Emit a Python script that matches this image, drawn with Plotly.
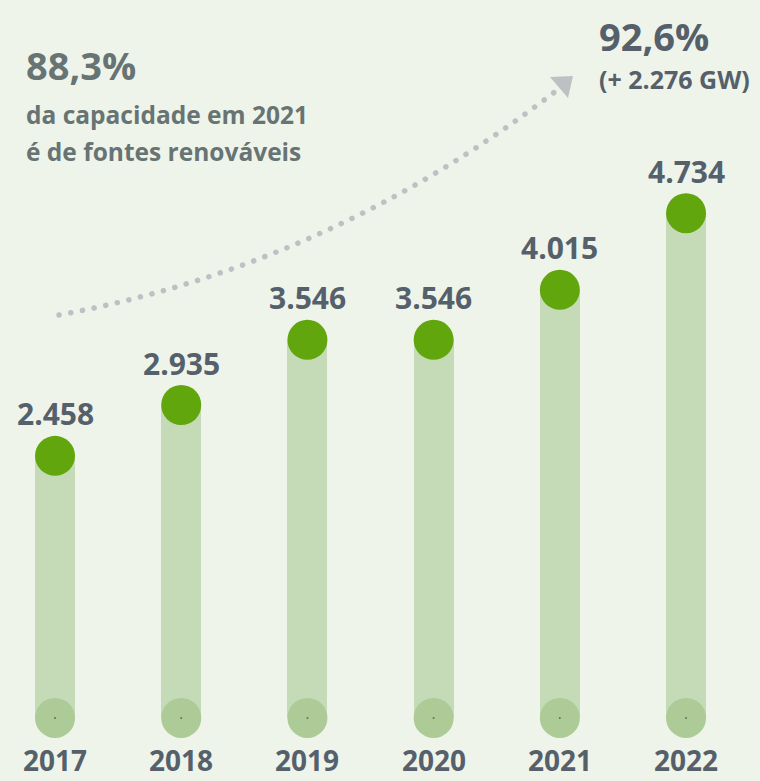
import plotly.graph_objects as go

# ---- data ----
years = ["2017", "2018", "2019", "2020", "2021", "2022"]
capacity = [2458, 2935, 3546, 3546, 4015, 4734]
value_labels = ["2.458", "2.935", "3.546", "3.546", "4.015", "4.734"]
headline_left = "88,3%"
sub_left = ["da capacidade em 2021", "é de fontes renováveis"]
headline_right = "92,6%"
sub_right = "(+ 2.276 GW)"

W, H = 760, 781
BG = "#EEF4EA"
BAR = "#C5DBB8"
TOP = "#62A60E"
BOTTOM = "#ACCB96"
DARK = "#55606A"
GREYTXT = "#687474"
ARROW = "#BEC1C4"
FONT = "Open Sans"

xs = list(range(len(years)))

def px(x):
    return x / W

def py(y):
    return 1 - y / H

fig = go.Figure()
fig.add_trace(go.Bar(x=xs, y=capacity, base=0, width=0.317,
                     marker=dict(color=BAR, line=dict(width=0)),
                     hoverinfo="skip", showlegend=False))
fig.add_trace(go.Scatter(x=xs, y=[0] * len(xs), mode="markers",
                         marker=dict(size=40, color=BOTTOM, line=dict(width=0)),
                         hoverinfo="skip", showlegend=False))
fig.add_trace(go.Scatter(x=xs, y=[0] * len(xs), mode="markers",
                         marker=dict(size=2, color="#6b6b6b", line=dict(width=0)),
                         hoverinfo="skip", showlegend=False))
fig.add_trace(go.Scatter(x=xs, y=capacity, mode="markers",
                         marker=dict(size=40, color=TOP, line=dict(width=0)),
                         hoverinfo="skip", showlegend=False))

ann = []
for x, v, lab in zip(xs, capacity, value_labels):
    ann.append(dict(x=x, y=v, xref="x", yref="y", text=lab, showarrow=False,
                    xanchor="center", yanchor="middle", yshift=42,
                    font=dict(family=FONT, size=30, color=DARK, weight=700)))
for x, yr in zip(xs, years):
    ann.append(dict(x=x, y=0, xref="x", yref="paper", text=yr, showarrow=False,
                    xanchor="center", yanchor="bottom", yshift=0,
                    font=dict(family=FONT, size=28, color=DARK, weight=700)))

ann.append(dict(x=px(24), y=py(65), xref="paper", yref="paper", text=headline_left,
                showarrow=False, xanchor="left", yanchor="middle",
                font=dict(family=FONT, size=38, color=GREYTXT, weight=700)))
for i, line in enumerate(sub_left):
    ann.append(dict(x=px(24), y=py(114 + 37 * i), xref="paper", yref="paper", text=line,
                    showarrow=False, xanchor="left", yanchor="middle",
                    font=dict(family=FONT, size=24.5, color=GREYTXT, weight=700)))
ann.append(dict(x=px(597), y=py(36), xref="paper", yref="paper", text=headline_right,
                showarrow=False, xanchor="left", yanchor="middle",
                font=dict(family=FONT, size=38, color=DARK, weight=700)))
ann.append(dict(x=px(597), y=py(79), xref="paper", yref="paper", text=sub_right,
                showarrow=False, xanchor="left", yanchor="middle",
                font=dict(family=FONT, size=25, color=DARK, weight=700)))

# decorative dotted arrow (paper coordinates)
p0, p1, p2 = (59, 315), (330, 265), (556, 91)
path = "M {},{} Q {},{} {},{}".format(px(p0[0]), py(p0[1]), px(p1[0]), py(p1[1]),
                                       px(p2[0]), py(p2[1]))
tri = [(550, 77), (573, 76), (568, 98)]
tri_path = "M {},{} L {},{} L {},{} Z".format(*[c for p in tri for c in (px(p[0]), py(p[1]))])

shapes = [
    dict(type="path", path=path, xref="paper", yref="paper",
         line=dict(color=ARROW, width=5.5, dash="0.1px,11.8px")),
    dict(type="path", path=tri_path, xref="paper", yref="paper",
         fillcolor=ARROW, line=dict(width=0)),
]

fig.update_layout(
    width=W, height=H,
    margin=dict(l=0, r=0, t=0, b=0),
    paper_bgcolor=BG, plot_bgcolor=BG,
    xaxis=dict(range=[-0.436, 5.586], visible=False, fixedrange=True),
    yaxis=dict(range=[-591, 6733], visible=False, fixedrange=True),
    annotations=ann, shapes=shapes, bargap=0,
)

fig.write_html(
    "out.html",
    config={"displayModeBar": False},
    post_script="document.body.style.margin='0';document.body.style.padding='0';"
                "document.body.style.overflow='hidden';"
                "document.querySelectorAll('.shapelayer path').forEach(function(p){"
                "p.style.strokeLinecap='round';});",
)
